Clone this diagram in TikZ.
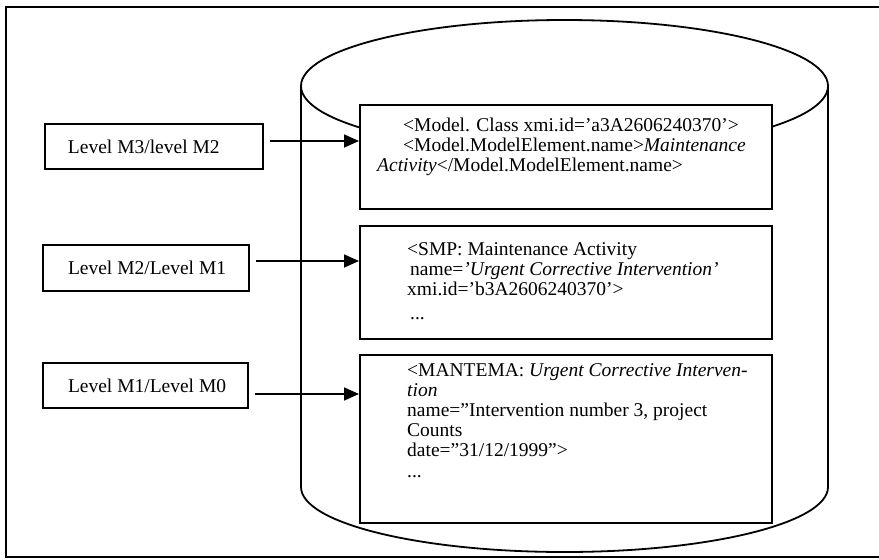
\documentclass[tikz,border=0pt]{standalone}
\usepackage{fontspec}
\setmainfont{Liberation Serif}
\usetikzlibrary{arrows.meta}

\newcommand{\boxfont}{\fontsize{19.5}{20}\selectfont}
% label set flush left, 'indent' from the left border, in a box 'width' wide
\newcommand{\levellabel}[3]{\makebox[#1][l]{\hspace*{#2}#3}}

\tikzset{
  frameline/.style={line width=1.8pt},
  cylline/.style={line width=1.8pt},
  levelbox/.style={draw, line width=1.5pt, fill=white, font=\boxfont,
    inner ysep=0pt, inner xsep=0pt},
  recbox/.style={draw, line width=1.6pt, fill=white, anchor=north west,
    inner sep=0pt, minimum width=412pt},
  rectext/.style={font=\boxfont, align=left, anchor=north west, inner sep=0pt},
  arr/.style={line width=1.7pt, -{Triangle[length=15pt,width=13pt]}},
}

\begin{document}
\begin{tikzpicture}[x=1pt, y=1pt]
  \path[use as bounding box] (0,0) rectangle (879,-560);
  \clip (0,0) rectangle (879,-560);

  % outer frame (runs past the right edge)
  \draw[frameline] (6,-7) rectangle (900,-557);

  % repository drawn as a cylinder
  \draw[cylline] (301,-86) -- (301,-487)
    arc[start angle=180, end angle=360, x radius=263.5, y radius=65]
    -- (828,-86);
  \draw[cylline] (564.5,-86) ellipse[x radius=263.5, y radius=66];

  % records stored in the repository
  \node[recbox, minimum height=104pt] (b1) at (359,-104) {};
  \node[recbox, minimum height=113pt] (b2) at (359,-225) {};
  \node[recbox, minimum height=168pt] (b3) at (359,-354) {};

  \node[rectext] (t1) at (377,-117.5) {%
    \hspace*{26pt}<Model. Class xmi.id=’a3A2606240370’>\\
    \hspace*{26pt}<Model.ModelElement.name>\textit{Maintenance}\\
    \textit{Activity}</Model.ModelElement.name>};

  \node[rectext] (t2) at (407,-242.5) {%
    <SMP: Maintenance Activity\\
    \hspace*{3pt}name=\textit{’Urgent Corrective Intervention’}\\
    xmi.id=’b3A2606240370’>\\[4pt]
    \hspace*{3pt}...};

  \node[rectext] (t3) at (407,-363.5) {%
    <MANTEMA: \textit{Urgent Corrective Interven-}\\
    \textit{tion}\\
    name=”Intervention number 3, project\\
    Counts\\
    date=”31/12/1999”>\\[1pt]
    ...};

  % metamodel levels
  \node[levelbox, minimum height=45pt] (lA) at (154,-146.5)
    {\levellabel{218pt}{23pt}{Level M3/level M2}};
  \node[levelbox, minimum height=46pt] (lB) at (146,-268)
    {\levellabel{206pt}{25pt}{Level M2/Level M1}};
  \node[levelbox, minimum height=45pt] (lC) at (145.5,-385.5)
    {\levellabel{205pt}{25pt}{Level M1/Level M0}};

  % links from each level to its record
  \coordinate (pA) at ([yshift=5.5pt]lA.east);
  \coordinate (pB) at ([yshift=7pt]lB.east);
  \coordinate (pC) at ([yshift=-8.5pt]lC.east);
  \draw[arr] ([xshift=6pt]pA) -- (pA -| b1.west);
  \draw[arr] ([xshift=6pt]pB) -- (pB -| b2.west);
  \draw[arr] ([xshift=6pt]pC) -- (pC -| b3.west);
\end{tikzpicture}
\end{document}
